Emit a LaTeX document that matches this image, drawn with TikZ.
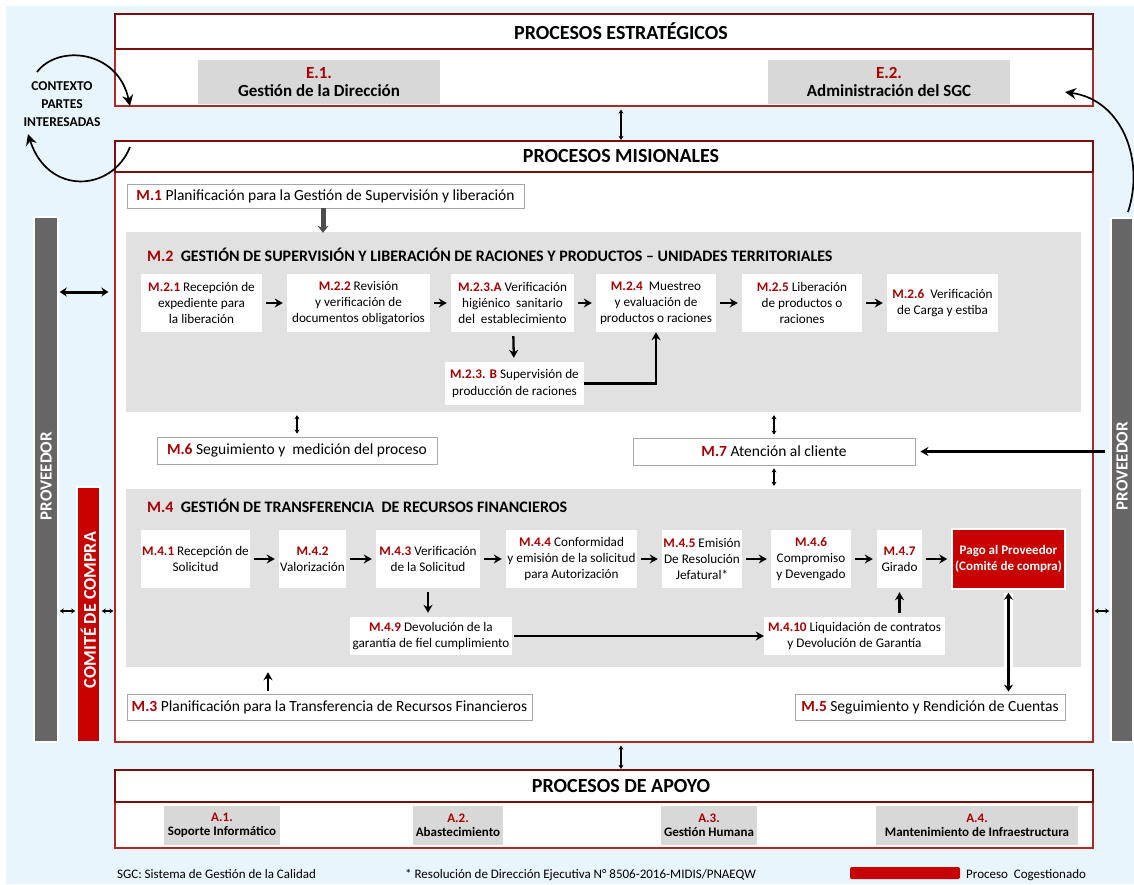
\documentclass[tikz,border=0pt]{standalone}
\usepackage{fontspec}
\setmainfont{Carlito}
\usepackage{xcolor}
\usetikzlibrary{arrows.meta,positioning,calc}

\definecolor{mred}{RGB}{170,0,0}
\definecolor{fred}{RGB}{175,40,40}
\definecolor{fdark}{RGB}{120,15,15}
\definecolor{cred}{RGB}{200,0,0}
\definecolor{bgblue}{RGB}{233,245,252}
\definecolor{pgray}{RGB}{225,225,225}
\definecolor{egray}{RGB}{216,216,216}
\definecolor{bargray}{RGB}{102,102,102}

\newcommand{\mc}[1]{{\color{mred}\bfseries #1}}

\begin{document}
\begin{tikzpicture}[x=1pt, y=-1pt,
    procframe/.style={draw=fred, line width=1.2pt, fill=white, inner sep=0pt, minimum width=978},
    prochead/.style={draw=fdark, line width=2.2pt, fill=white, inner sep=0pt, minimum width=978},
    headtext/.style={inner sep=0pt, font=\fontsize{20}{22}\selectfont\bfseries},
    ebox/.style={fill=egray, align=center, inner sep=0pt, minimum height=44,
                 font=\fontsize{17}{18}\selectfont\bfseries},
    abox/.style={fill=egray, align=center, inner sep=0pt, minimum height=39,
                 font=\fontsize{13}{14.5}\selectfont\bfseries},
    panel/.style={fill=pgray, inner sep=0pt, minimum width=955},
    paneltitle/.style={anchor=west, inner sep=0pt, font=\fontsize{16}{18}\selectfont\bfseries},
    stepbox/.style={fill=white, align=center, inner sep=1pt, minimum height=58,
                    font=\fontsize{13.2}{16.2}\selectfont},
    planbox/.style={draw=gray!70, fill=white, line width=0.8pt, inner sep=0pt, minimum height=26,
                    font=\fontsize{15.5}{17}\selectfont},
    bar/.style={draw=white, line width=1.5pt, inner sep=0pt},
    bartext/.style={rotate=90, text=white, font=\fontsize{17}{18}\selectfont\bfseries},
    note/.style={anchor=base west, inner sep=0pt, font=\fontsize{13}{14}\selectfont},
    arrow/.style={-{Stealth[length=8pt,width=9pt]}, line width=2.3pt},
    dbl/.style={{Stealth[length=4pt,width=5pt]}-{Stealth[length=4pt,width=5pt]}, line width=1.3pt},
    bigdbl/.style={{Stealth[length=7pt,width=9pt]}-{Stealth[length=7pt,width=9pt]}, line width=3pt},
    curv/.style={-{Stealth[length=11pt,width=11pt]}, line width=1.7pt},
    halo/.style={preaction={draw=white, line width=9pt, -}}
]
    \useasboundingbox (0,0) rectangle (1134,884);
    \fill[bgblue] (6,6) rectangle (1134,884);

    % Process frames
    \node[procframe, minimum height=92] (stratbody) at (604,60) {};
    \node[prochead, minimum height=35] (strathead) at (604,31.5) {};
    \node[headtext] (strattxt) at (621,31.5) {PROCESOS ESTRATÉGICOS};
    \node[procframe, minimum height=601] (misbody) at (604,441.5) {};
    \node[prochead, minimum height=31] (mishead) at (604,156.5) {};
    \node[headtext] (mistxt) at (621,156.5) {PROCESOS MISIONALES};
    \node[procframe, minimum height=78] (apobody) at (604,809) {};
    \node[prochead, minimum height=32] (apohead) at (604,786) {};
    \node[headtext] (apotxt) at (621,786) {PROCESOS DE APOYO};

    % Strategic processes
    \node[ebox, minimum width=242] (e1) at (319,82) {\mc{E.1.}\\Gestión de la Dirección};
    \node[ebox, minimum width=242] (e2) at (889,82) {\mc{E.2.}\\Administración del SGC};

    % Side actors
    \node[bar, fill=bargray, minimum width=24, minimum height=525] (provL) at (46,479.5) {};
    \node[bartext] at (46,476) {PROVEEDOR};
    \node[bar, fill=cred, minimum width=23, minimum height=255] (comite) at (88.5,614.5) {};
    \node[bartext, font=\fontsize{18}{19}\selectfont\bfseries] at (88.5,610) {COMITÉ DE COMPRA};
    \node[bar, fill=bargray, minimum width=22, minimum height=524] (provR) at (1122,480) {};
    \node[bartext] at (1122,466) {PROVEEDOR};
    \node[align=center, font=\fontsize{13.5}{18}\selectfont\bfseries] (ctx) at (62,104)
        {CONTEXTO\\PARTES\\INTERESADAS};

    % M.1 and M.2
    \node[planbox, minimum width=397, minimum height=24] (m1) at (325.5,196)
        {\mc{M.1} Planificación para la Gestión de Supervisión y liberación};
    \node[panel, minimum height=180] (m2p) at (603.5,322) {};
    \node[paneltitle] (m2t) at (147,255)
        {\mc{M.2}\ \ GESTIÓN DE SUPERVISIÓN Y LIBERACIÓN DE RACIONES Y PRODUCTOS – UNIDADES TERRITORIALES};
    \node[stepbox, minimum width=121] (m21) at (201.5,303) {\mc{M.2.1} Recepción de\\expediente para\\la liberación};
    \node[stepbox, minimum width=143] (m22) at (358.5,303) {\mc{M.2.2} Revisión\\y verificación de\\documentos obligatorios};
    \node[stepbox, minimum width=123] (m23a) at (512.5,303) {\mc{M.2.3.A} Verificación\\higiénico\ \ sanitario\\del\ \ establecimiento};
    \node[stepbox, minimum width=120] (m24) at (656,303) {\mc{M.2.4}\ \ Muestreo\\y evaluación de\\productos o raciones};
    \node[stepbox, minimum width=120] (m25) at (802,303) {\mc{M.2.5} Liberación\\de productos o\\raciones};
    \node[stepbox, minimum width=111] (m26) at (942.5,303) {\mc{M.2.6}\ \ Verificación\\de Carga y estiba};
    \node[stepbox, minimum width=139, minimum height=43] (m23b) at (514.5,383.5)
        {\mc{M.2.3. B} Supervisión de\\producción de raciones};

    % M.6 and M.7
    \node[planbox, minimum width=280, minimum height=27] (m6) at (297,450.5) {\mc{M.6} Seguimiento y\ \ medición del proceso};
    \node[planbox, minimum width=282, minimum height=27] (m7) at (774,451.5) {\mc{M.7} Atención al cliente};

    % M.4
    \node[panel, minimum height=178] (m4p) at (603.5,578) {};
    \node[paneltitle] (m4t) at (147,506)
        {\mc{M.4}\ \ GESTIÓN DE TRANSFERENCIA\ \ DE RECURSOS FINANCIEROS};
    \node[stepbox, minimum width=109] (m41) at (195.5,559) {\mc{M.4.1} Recepción de\\Solicitud};
    \node[stepbox, minimum width=67] (m42) at (312.5,559) {\mc{M.4.2}\\Valorización};
    \node[stepbox, minimum width=104] (m43) at (428,559) {\mc{M.4.3} Verificación\\de la Solicitud};
    \node[stepbox, minimum width=131] (m44) at (571.5,559) {\mc{M.4.4} Conformidad\\y emisión de la solicitud\\para Autorización};
    \node[stepbox, minimum width=80] (m45) at (702,559) {\mc{M.4.5} Emisión\\De Resolución\\Jefatural*};
    \node[stepbox, minimum width=80] (m46) at (811,559) {\mc{M.4.6}\\Compromiso\\y Devengado};
    \node[stepbox, minimum width=45] (m47) at (899.5,559) {\mc{M.4.7}\\Girado};
    \node[stepbox, fill=cred, draw=white, line width=1.5pt, minimum width=113, minimum height=60,
          text=white, font=\fontsize{13}{16}\selectfont\bfseries] (pago) at (1008.5,559)
        {Pago al Proveedor\\(Comité de compra)};
    \node[stepbox, minimum width=162, minimum height=38] (m49) at (431,636)
        {\mc{M.4.9} Devolución de la\\garantía de fiel cumplimiento};
    \node[stepbox, minimum width=181, minimum height=38] (m410) at (854.5,636)
        {\mc{M.4.10} Liquidación de contratos\\y Devolución de Garantía};

    % M.3 and M.5
    \node[planbox, minimum width=405] (m3) at (329.5,707) {\mc{M.3} Planificación para la Transferencia de Recursos Financieros};
    \node[planbox, minimum width=270] (m5) at (930,707) {\mc{M.5} Seguimiento y Rendición de Cuentas};

    % Support processes
    \node[abox, minimum width=116] (a1) at (222,825.5) {\mc{A.1.}\\Soporte Informático};
    \node[abox, minimum width=90] (a2) at (458,825.5) {\mc{A.2.}\\Abastecimiento};
    \node[abox, minimum width=96] (a3) at (709,825.5) {\mc{A.3.}\\Gestión Humana};
    \node[abox, minimum width=202] (a4) at (977,825.5) {\mc{A.4.}\\Mantenimiento de Infraestructura};

    % Footnotes and legend
    \node[note] (sgc) at (117,878) {SGC: Sistema de Gestión de la Calidad};
    \node[note] (res) at (405,878) {* Resolución de Dirección Ejecutiva N° 8506-2016-MIDIS/PNAEQW};
    \node[fill=cred, inner sep=0pt, minimum width=110, minimum height=12, rounded corners=1.5pt] (legbar) at (905,873) {};
    \node[note] (leg) at (966,878) {Proceso\ \ Cogestionado};

    % Helper columns and rows
    \coordinate (xa) at (621,0);
    \coordinate (xb) at (323,0);
    \coordinate (xc) at (268,0);
    \coordinate (ya) at (0,292);
    \coordinate (yb) at (0,611);

    % Arrows between levels
    \draw[dbl] (stratbody.south -| xa) ++(0,3) -- (mishead.north -| xa);
    \draw[dbl] (misbody.south -| xa) ++(0,3) -- (apohead.north -| xa);
    \draw[-{Stealth[length=7pt,width=11pt]}, line width=5pt, gray!60!black]
        (m1.south -| xb) -- ([yshift=-1pt]m2p.north -| xb);

    % M.2 flow
    \draw[arrow, shorten <=4pt, shorten >=4pt] (m21) -- (m22);
    \draw[arrow, shorten <=4pt, shorten >=4pt] (m22) -- (m23a);
    \draw[arrow, shorten <=4pt, shorten >=4pt] (m23a) -- (m24);
    \draw[arrow, shorten <=4pt, shorten >=4pt] (m24) -- (m25);
    \draw[arrow, shorten <=4pt, shorten >=4pt] (m25) -- (m26);
    \draw[arrow, shorten <=4pt, shorten >=4pt] (m23a) -- (m23b);
    \draw[arrow] (m23b.east) -| (m24.south);

    % M.6 / M.7 links
    \draw[dbl, shorten <=3pt, shorten >=3pt] (m2p.south -| m6) -- (m6.north);
    \draw[dbl, shorten <=3pt, shorten >=3pt] (m2p.south -| m7) -- (m7.north);
    \draw[dbl, shorten <=3pt, shorten >=3pt] (m7.south) -- (m4p.north -| m7);
    \draw[arrow, shorten <=5pt, shorten >=5pt] (provR.west |- m7) -- (m7.east);

    % M.4 flow
    \draw[arrow, shorten <=4pt, shorten >=4pt] (m41) -- (m42);
    \draw[arrow, shorten <=4pt, shorten >=4pt] (m42) -- (m43);
    \draw[arrow, shorten <=4pt, shorten >=4pt] (m43) -- (m44);
    \draw[arrow, shorten <=4pt, shorten >=4pt] (m44) -- (m45);
    \draw[arrow, shorten <=4pt, shorten >=4pt] (m45) -- (m46);
    \draw[arrow, shorten <=4pt, shorten >=4pt] (m46) -- (m47);
    \draw[arrow, shorten <=4pt, shorten >=4pt] (m47) -- (pago);
    \draw[arrow, shorten <=4pt, shorten >=4pt] (m43.south) -- (m49.north -| m43);
    \draw[arrow, shorten <=2pt] (m49.east) -- (m410.west);
    \draw[arrow, shorten <=4pt, shorten >=4pt] (m410.north -| m47) -- (m47.south);
    \draw[bigdbl, halo, shorten <=2pt, shorten >=3pt] (m5.north -| pago) -- (pago.south);
    \draw[arrow, line width=1.6pt, shorten <=3pt, shorten >=5pt] (m3.north -| xc) -- (m4p.south -| xc);

    % Side actor links
    \draw[bigdbl, shorten <=1pt, shorten >=6pt] (provL.east |- ya) -- (misbody.west |- ya);
    \draw[dbl, shorten <=1pt, shorten >=1pt] (provL.east |- yb) -- (comite.west |- yb);
    \draw[dbl, shorten <=1pt, shorten >=1pt] (comite.east |- yb) -- (misbody.west |- yb);
    \draw[dbl, shorten <=1pt, shorten >=1pt] (misbody.east |- yb) -- (provR.west |- yb);

    % Context loops
    \coordinate (c1a) at (37,72);
    \coordinate (c1b) at (130,106);
    \coordinate (c2a) at (130,147);
    \coordinate (c2b) at (28,134);
    \coordinate (c3a) at (1128,212);
    \coordinate (c3b) at (1065,92);
    \draw[curv] (c1a) .. controls (58,44) and (118,50) .. (c1b);
    \draw[curv] (c2a) .. controls (112,192) and (48,196) .. (c2b);
    \draw[curv] (c3a) .. controls (1145,160) and (1122,100) .. (c3b);
\end{tikzpicture}
\end{document}
